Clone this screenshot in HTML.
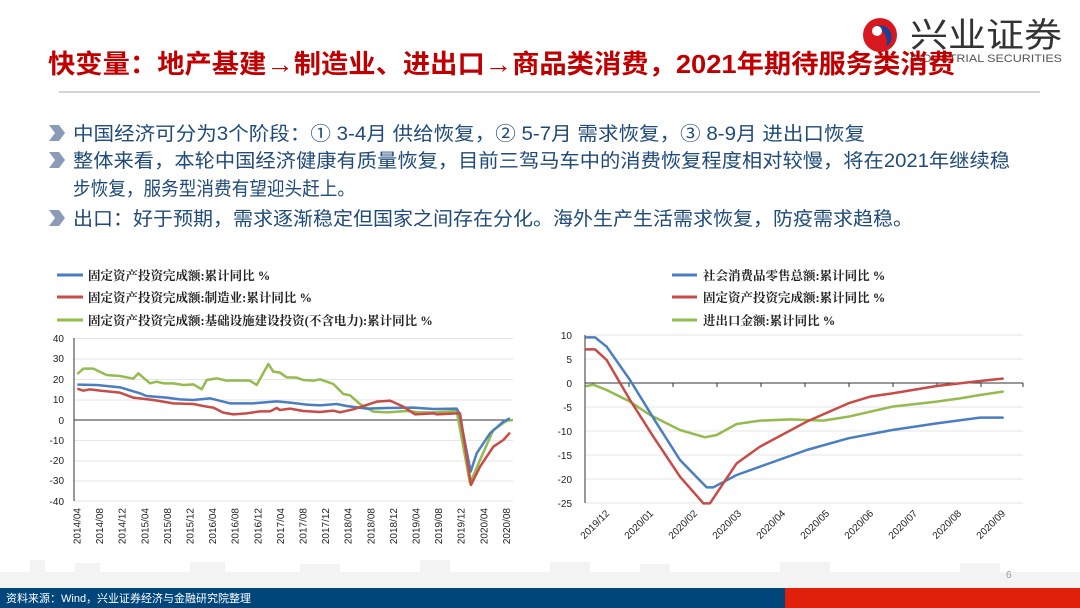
<!DOCTYPE html>
<html><head><meta charset="utf-8"><style>
html,body{margin:0;padding:0;background:#fff}
svg{display:block}
text{font-family:"Liberation Sans","Noto Sans CJK SC",sans-serif}
.lg{font-family:"Liberation Serif","Noto Serif CJK SC",serif;font-size:12.5px;font-weight:bold;fill:#222}
.ax{font-family:"Liberation Sans",sans-serif;font-size:10px;fill:#222}
</style></head><body>
<svg width="1080" height="608" viewBox="0 0 1080 608" xmlns="http://www.w3.org/2000/svg">
<g fill="#f3f3f3">
<rect x="0" y="572" width="1080" height="16"/>
<rect x="30" y="560" width="15" height="28"/><rect x="75" y="563" width="25" height="25"/><rect x="190" y="562" width="35" height="26"/>
<rect x="300" y="564" width="40" height="24"/><rect x="420" y="560" width="30" height="28"/><rect x="550" y="562" width="40" height="26"/>
<rect x="640" y="564" width="30" height="24"/><rect x="780" y="562" width="50" height="26"/><rect x="960" y="563" width="40" height="25"/>
</g>
<rect x="0" y="588" width="785" height="20" fill="#00467a"/>
<rect x="785" y="588" width="295" height="20" fill="#e0200a"/>
<text x="6" y="602" font-size="11" fill="#fff" font-family="Liberation Mono,'Noto Sans CJK SC',monospace">资料来源：Wind，兴业证券经济与金融研究院整理</text>
<text x="1006" y="578" font-size="10" fill="#999">6</text>
<!-- logo -->
<circle cx="880" cy="35" r="17" fill="#d7191f"/>
<path d="M874 27 a11 11 0 1 1 12 20 a15 15 0 0 0 -12 -20z" fill="#1c3f94"/>
<circle cx="877" cy="31" r="5" fill="#fff"/>
<text x="910" y="47" font-size="34" fill="#333" font-family="'Noto Serif CJK SC','Liberation Serif',serif" textLength="152" lengthAdjust="spacingAndGlyphs">兴业证券</text>
<text x="910" y="62" font-size="11" fill="#555" font-family="Liberation Serif,serif" textLength="152" lengthAdjust="spacingAndGlyphs">INDUSTRIAL SECURITIES</text>
<text x="48" y="73" font-size="26" font-weight="bold" fill="#c00000" textLength="907" lengthAdjust="spacingAndGlyphs">快变量：地产基建→制造业、进出口→商品类消费，2021年期待服务类消费</text>
<line x1="59" y1="92" x2="1040" y2="92" stroke="#aaa" stroke-width="1"/>
<g fill="#8a9bb8">
<path d="M49 125 l10 0 l6 8 l-6 8 l-10 0 l6 -8z"/>
<path d="M49 152 l10 0 l6 8 l-6 8 l-10 0 l6 -8z"/>
<path d="M49 210 l10 0 l6 8 l-6 8 l-10 0 l6 -8z"/>
</g>
<g font-size="19" fill="#1f4a7a">
<text x="73" y="140" textLength="792" lengthAdjust="spacingAndGlyphs">中国经济可分为3个阶段：① 3-4月 供给恢复，② 5-7月 需求恢复，③ 8-9月 进出口恢复</text>
<text x="73" y="167" textLength="937" lengthAdjust="spacingAndGlyphs">整体来看，本轮中国经济健康有质量恢复，目前三驾马车中的消费恢复程度相对较慢，将在2021年继续稳</text>
<text x="73" y="195" textLength="282" lengthAdjust="spacingAndGlyphs">步恢复，服务型消费有望迎头赶上。</text>
<text x="73" y="225" textLength="840" lengthAdjust="spacingAndGlyphs">出口：好于预期，需求逐渐稳定但国家之间存在分化。海外生产生活需求恢复，防疫需求趋稳。</text>
</g>

<g stroke-width="3">
<line x1="57" y1="275" x2="83" y2="275" stroke="#4a7ec0"/>
<line x1="57" y1="297" x2="83" y2="297" stroke="#c84b47"/>
<line x1="57" y1="320" x2="83" y2="320" stroke="#93bb4e"/>
</g>
<text class="lg" x="88" y="280">固定资产投资完成额:累计同比 %</text>
<text class="lg" x="88" y="302">固定资产投资完成额:制造业:累计同比 %</text>
<text class="lg" x="88" y="325">固定资产投资完成额:基础设施建设投资(不含电力):累计同比 %</text>
<g stroke="#e6e6e6" stroke-width="1">
<line x1="74" y1="338.5" x2="513" y2="338.5"/><line x1="74" y1="359" x2="513" y2="359"/><line x1="74" y1="379.5" x2="513" y2="379.5"/>
<line x1="74" y1="400" x2="513" y2="400"/><line x1="74" y1="440.5" x2="513" y2="440.5"/><line x1="74" y1="461" x2="513" y2="461"/>
<line x1="74" y1="481" x2="513" y2="481"/><line x1="74" y1="501" x2="513" y2="501"/>
</g>
<line x1="74" y1="338" x2="74" y2="501" stroke="#333"/>
<line x1="74" y1="420" x2="513" y2="420" stroke="#333"/>
<g class="ax" text-anchor="end">
<text x="64" y="342">40</text><text x="64" y="362">30</text><text x="64" y="383">20</text><text x="64" y="403">10</text>
<text x="64" y="424">0</text><text x="64" y="444">-10</text><text x="64" y="464">-20</text><text x="64" y="484">-30</text><text x="64" y="505">-40</text>
</g>
<g class="ax" text-anchor="end" id="lx"></g>
<g transform="translate(0,250) scale(0.33333)" fill="none" stroke-width="2.5" stroke-linejoin="round">
<polyline vector-effect="non-scaling-stroke" stroke="#93bb4e" points="232,372 250,356 280,356 320,375 360,378 400,386 415,370 450,400 470,395 490,400 520,400 550,405 580,403 605,418 620,390 650,385 680,392 700,391 750,392 770,405 805,342 820,365 840,368 860,382 890,383 910,390 940,392 960,388 1000,402 1030,432 1050,436 1080,462 1120,485 1160,487 1220,483 1260,487 1300,487 1370,483 1410,700 1440,630 1480,540 1520,512 1538,510"/>
<polyline vector-effect="non-scaling-stroke" stroke="#4a7ec0" points="232,404 290,405 360,412 420,430 440,438 500,443 540,448 580,450 630,445 690,460 760,460 830,454 870,458 920,464 960,466 1010,462 1040,468 1100,476 1160,474 1240,473 1300,477 1370,476 1378,490 1412,665 1430,610 1470,550 1510,515 1530,505"/>
<polyline vector-effect="non-scaling-stroke" stroke="#c84b47" points="232,416 250,422 270,418 300,422 360,428 400,443 460,450 520,460 580,462 620,470 640,473 670,488 700,493 740,490 780,484 810,484 830,474 840,480 870,476 910,483 960,486 1000,482 1020,487 1060,478 1100,465 1130,455 1170,452 1210,470 1245,493 1300,490 1310,493 1370,490 1380,490 1413,705 1440,650 1480,590 1510,570 1530,548"/>
</g>

<g stroke-width="3">
<line x1="672" y1="275" x2="697" y2="275" stroke="#4a7ec0"/>
<line x1="672" y1="297" x2="697" y2="297" stroke="#c84b47"/>
<line x1="672" y1="320" x2="697" y2="320" stroke="#93bb4e"/>
</g>
<text class="lg" x="703" y="280">社会消费品零售总额:累计同比 %</text>
<text class="lg" x="703" y="302">固定资产投资完成额:累计同比 %</text>
<text class="lg" x="703" y="325">进出口金额:累计同比 %</text>
<g stroke="#e6e6e6" stroke-width="1">
<line x1="585" y1="335" x2="1023" y2="335"/><line x1="585" y1="359" x2="1023" y2="359"/><line x1="585" y1="407" x2="1023" y2="407"/>
<line x1="585" y1="431" x2="1023" y2="431"/><line x1="585" y1="455" x2="1023" y2="455"/><line x1="585" y1="479" x2="1023" y2="479"/><line x1="585" y1="503" x2="1023" y2="503"/>
</g>
<line x1="585" y1="335" x2="585" y2="503" stroke="#333"/>
<line x1="585" y1="383" x2="1023" y2="383" stroke="#333"/>
<g stroke="#333"><line x1="629" y1="383" x2="629" y2="387"/><line x1="673" y1="383" x2="673" y2="387"/><line x1="717" y1="383" x2="717" y2="387"/><line x1="761" y1="383" x2="761" y2="387"/><line x1="805" y1="383" x2="805" y2="387"/><line x1="849" y1="383" x2="849" y2="387"/><line x1="893" y1="383" x2="893" y2="387"/><line x1="937" y1="383" x2="937" y2="387"/><line x1="981" y1="383" x2="981" y2="387"/><line x1="1023" y1="383" x2="1023" y2="387"/></g>
<g class="ax" text-anchor="end">
<text x="572" y="339">10</text><text x="572" y="363">5</text><text x="572" y="387">0</text><text x="572" y="411">-5</text>
<text x="572" y="435">-10</text><text x="572" y="459">-15</text><text x="572" y="483">-20</text><text x="572" y="507">-25</text>
</g>
<g class="ax" text-anchor="end" id="rx"></g>
<g transform="translate(540,250) scale(0.33333)" fill="none" stroke-width="2.5" stroke-linejoin="round" stroke-linecap="round">
<polyline vector-effect="non-scaling-stroke" stroke="#93bb4e" points="140,408 160,404 200,420 270,455 330,495 420,540 495,562 530,555 590,522 660,512 750,508 850,512 925,500 1057,470 1190,455 1260,445 1320,435 1388,425"/>
<polyline vector-effect="non-scaling-stroke" stroke="#4a7ec0" points="140,262 165,262 200,290 270,390 350,520 420,630 500,712 520,712 590,675 660,650 800,600 925,565 1057,540 1190,520 1320,503 1388,503"/>
<polyline vector-effect="non-scaling-stroke" stroke="#c84b47" points="140,298 165,298 200,330 270,450 340,560 420,680 490,760 510,760 590,640 660,590 800,515 925,460 990,440 1057,430 1190,408 1320,393 1388,386"/>
</g>
</svg>
<script>
var ns="http://www.w3.org/2000/svg";
var lx=document.getElementById("lx");
for(var i=0;i<20;i++){var m=3+4*i;var y=2014+Math.floor(m/12);var mo=m%12+1;var x=77+22.6*i;
var t=document.createElementNS(ns,"text");t.setAttribute("transform","translate("+(x+3.5)+",508) rotate(-90)");
t.textContent=y+"/"+(mo<10?"0"+mo:mo);lx.appendChild(t);}
var rx=document.getElementById("rx");
var lab=["2019/12","2020/01","2020/02","2020/03","2020/04","2020/05","2020/06","2020/07","2020/08","2020/09"];
for(var k=0;k<10;k++){var t=document.createElementNS(ns,"text");t.setAttribute("transform","translate("+(610+44*k)+",514) rotate(-45)");t.textContent=lab[k];rx.appendChild(t);}
</script>
</body></html>
